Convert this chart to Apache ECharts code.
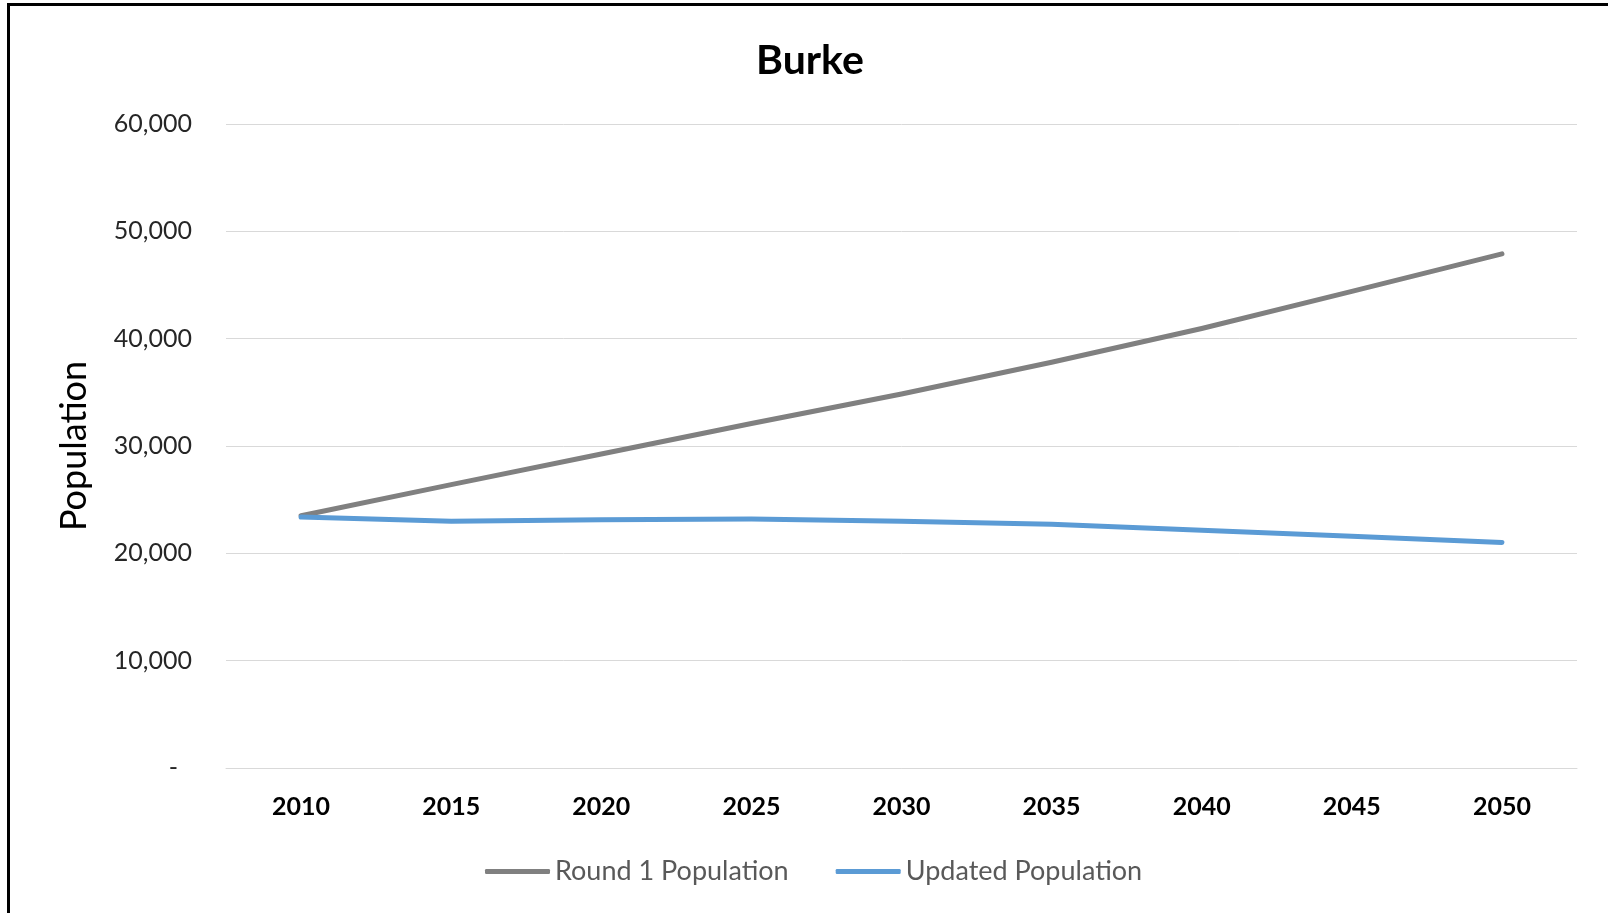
<!DOCTYPE html>
<html>
<head>
<meta charset="utf-8">
<script src="https://cdn.jsdelivr.net/npm/echarts@6/dist/echarts.min.js"></script>
<style>
  html, body { margin: 0; padding: 0; background: #ffffff; width: 1608px; height: 913px; overflow: hidden; }
  #frame { position: absolute; left: 7px; top: 3px; width: 2000px; height: 2000px; border: 3px solid #000; box-sizing: border-box; z-index: 0; }
  #chart { position: absolute; left: 0; top: 0; width: 1608px; height: 913px; z-index: 1; }
</style>
</head>
<body>
<div id="frame"></div>
<div id="chart"></div>
<script>
const titleText = 'Burke';
const yAxisName = 'Population';
const years = ['2010', '2015', '2020', '2025', '2030', '2035', '2040', '2045', '2050'];
const round1Population = [23500, 26400, 29250, 32100, 34850, 37800, 40950, 44400, 47900];
const updatedPopulation = [23380, 23000, 23130, 23190, 23000, 22700, 22160, 21600, 21020];
const seriesNames = ['Round 1 Population', 'Updated Population'];

const FONT = 'Lato, "Open Sans", sans-serif';
const chart = echarts.init(document.getElementById('chart'), null, { renderer: 'canvas' });

chart.setOption({
  animation: false,
  backgroundColor: 'transparent',
  title: {
    text: titleText,
    left: 751, top: 35,
    textStyle: { fontFamily: FONT, fontWeight: 'bold', fontSize: 41, color: '#000' }
  },
  legend: {
    data: seriesNames,
    left: 480, top: 853,
    itemWidth: 65, itemHeight: 5, itemGap: 47,
    icon: 'roundRect',
    textStyle: { fontFamily: FONT, fontSize: 27, color: '#595959' }
  },
  grid: { left: 226, right: 31, top: 124, bottom: 145, containLabel: false },
  xAxis: {
    type: 'category',
    data: years,
    boundaryGap: true,
    axisLine: { show: true, lineStyle: { color: '#d9d9d9', width: 1 } },
    axisTick: { show: false },
    axisLabel: { margin: 26, fontFamily: FONT, fontWeight: 'bold', fontSize: 25, color: '#000' }
  },
  yAxis: {
    type: 'value',
    min: 0, max: 60000, interval: 10000,
    name: yAxisName,
    nameLocation: 'middle',
    nameGap: 134,
    nameTextStyle: { fontFamily: FONT, fontSize: 36, color: '#000' },
    axisLine: { show: false },
    axisTick: { show: false },
    splitLine: { lineStyle: { color: '#d9d9d9', width: 1 } },
    axisLabel: {
      margin: 34,
      fontFamily: FONT, fontSize: 25, color: '#262626',
      formatter: function (v) {
        if (v === 0) return '{dash|-}';
        return v.toLocaleString('en-US');
      },
      rich: { dash: { fontFamily: FONT, fontSize: 25, color: '#262626', padding: [0, 14, 0, 0] } }
    }
  },
  series: [
    {
      name: seriesNames[0], type: 'line', data: round1Population,
      symbol: 'none', smooth: false,
      lineStyle: { color: '#808080', width: 5, cap: 'round', join: 'round' },
      itemStyle: { color: '#808080' }
    },
    {
      name: seriesNames[1], type: 'line', data: updatedPopulation,
      symbol: 'none', smooth: false,
      lineStyle: { color: '#5b9bd5', width: 5, cap: 'round', join: 'round' },
      itemStyle: { color: '#5b9bd5' }
    }
  ]
});
</script>
</body>
</html>
